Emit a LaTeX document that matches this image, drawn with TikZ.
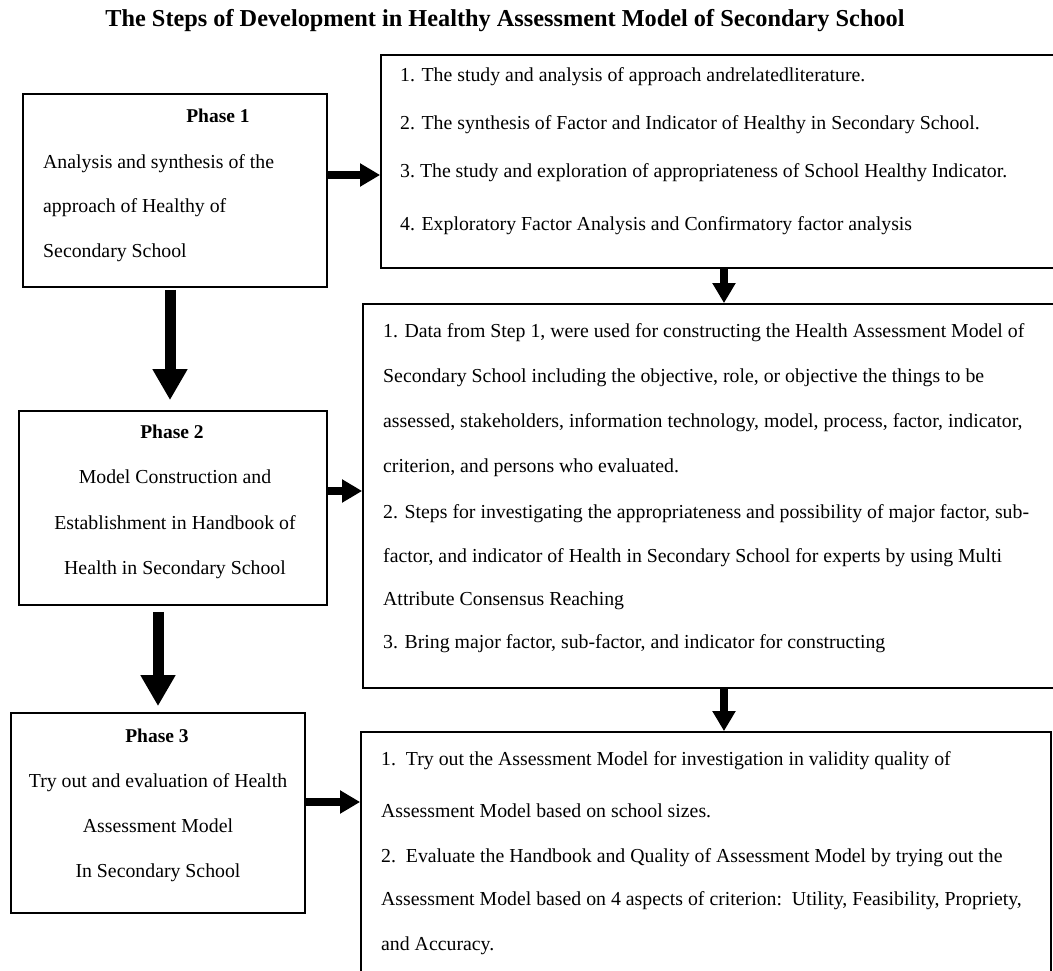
\documentclass[tikz,border=0pt]{standalone}
\usepackage{fontspec}
\setmainfont{Liberation Serif}
\usetikzlibrary{arrows.meta}

\tikzset{
  boxline/.style={draw, line width=1.8pt, inner sep=0pt},
  txt/.style={inner sep=0pt, font=\fontsize{19.8}{22}\selectfont},
  head/.style={inner sep=0pt, font=\bfseries\fontsize{19.5}{22}\selectfont},
  sidearrow/.style={line width=8pt, -{Triangle[length=20pt,width=22pt]}},
  bigarrow/.style={line width=11pt, -{Triangle[length=31pt,width=33pt]}}
}

\begin{document}
\begin{tikzpicture}[x=1pt,y=-1pt]
\useasboundingbox (0,0) rectangle (1053,971);

\node[inner sep=0pt, font=\bfseries\fontsize{24.3}{26}\selectfont, anchor=base] (title) at (505,27)
  {The Steps of Development in Healthy Assessment Model of Secondary School};

% phase boxes
\node[boxline, minimum width=304pt, minimum height=193pt] (p1) at (175,190.5) {};
\node[boxline, minimum width=308pt, minimum height=194pt] (p2) at (173,508) {};
\node[boxline, minimum width=294pt, minimum height=200pt] (p3) at (158,813) {};

% step boxes
\node[boxline, minimum width=679pt, minimum height=213pt] (r1) at (720.5,161.5) {};
\node[boxline, minimum width=697pt, minimum height=384pt] (r2) at (711.5,496) {};
\node[boxline, minimum width=690pt, minimum height=250pt] (r3) at (706,857) {};

% phase texts
\node[head, anchor=base] (p1h) at (218,123) {Phase 1};
\foreach \y/\t [count=\i] in {168/{Analysis and synthesis of the},
    213/{approach of Healthy of}, 257/{Secondary School}}
  \node[txt, anchor=base west] (p1t\i) at (43,\y) {\t};

\node[head, anchor=base] (p2h) at (172,438) {Phase 2};
\foreach \y/\t [count=\i] in {483/{Model Construction and},
    529/{Establishment in Handbook of}, 574/{Health in Secondary School}}
  \node[txt, anchor=base] (p2t\i) at (175,\y) {\t};

\node[head, anchor=base] (p3h) at (157,742) {Phase 3};
\foreach \y/\t [count=\i] in {787/{Try out and evaluation of Health},
    832/{Assessment Model}, 877/{In Secondary School}}
  \node[txt, anchor=base] (p3t\i) at (158,\y) {\t};

% step texts
\foreach \y/\t [count=\i] in {82/{1. The study and analysis of approach andrelatedliterature.},
    130/{2. The synthesis of Factor and Indicator of Healthy in Secondary School.},
    178/{3.\ The study and exploration of appropriateness of School Healthy Indicator.},
    230/{4. Exploratory Factor Analysis and Confirmatory factor analysis}}
  \node[txt, anchor=base west] (r1t\i) at (400,\y) {\t};

\foreach \y/\t [count=\i] in {337/{1. Data from Step 1, were used for constructing the Health Assessment Model of},
    382/{Secondary School including the objective, role, or objective the things to be},
    427/{assessed, stakeholders, information technology, model, process, factor, indicator,},
    472/{criterion, and persons who evaluated.},
    518/{2. Steps for investigating the appropriateness and possibility of major factor, sub-},
    562/{factor, and indicator of Health in Secondary School for experts by using Multi},
    605/{Attribute Consensus Reaching},
    648/{3. Bring major factor, sub-factor, and indicator for constructing}}
  \node[txt, anchor=base west] (r2t\i) at (383,\y) {\t};

\foreach \y/\t [count=\i] in {765/{1.\ \ Try out the Assessment Model for investigation in validity quality of},
    817/{Assessment Model based on school sizes.},
    862/{2.\ \ Evaluate the Handbook and Quality of Assessment Model by trying out the},
    905/{Assessment Model based on 4 aspects of criterion:\ \ Utility, Feasibility, Propriety,},
    950/{and Accuracy.}}
  \node[txt, anchor=base west] (r3t\i) at (381,\y) {\t};

% arrows
\draw[sidearrow] (p1.east |- 0,175) -- (r1.west |- 0,175);
\draw[sidearrow] (p2.east |- 0,491) -- (r2.west |- 0,491);
\draw[sidearrow] (p3.east |- 0,802) -- (r3.west |- 0,802);
\draw[sidearrow] (r1.south -| 724,0) -- (r2.north -| 724,0);
\draw[sidearrow] (r2.south -| 724,0) -- (r3.north -| 724,0);
\draw[bigarrow, shorten <=2pt, shorten >=10pt] (p1.south -| 170,0) -- (p2.north -| 170,0);
\draw[bigarrow, shorten <=6pt, shorten >=6pt] (p3.north |- p2.south) -- (p3.north);
\end{tikzpicture}
\end{document}
